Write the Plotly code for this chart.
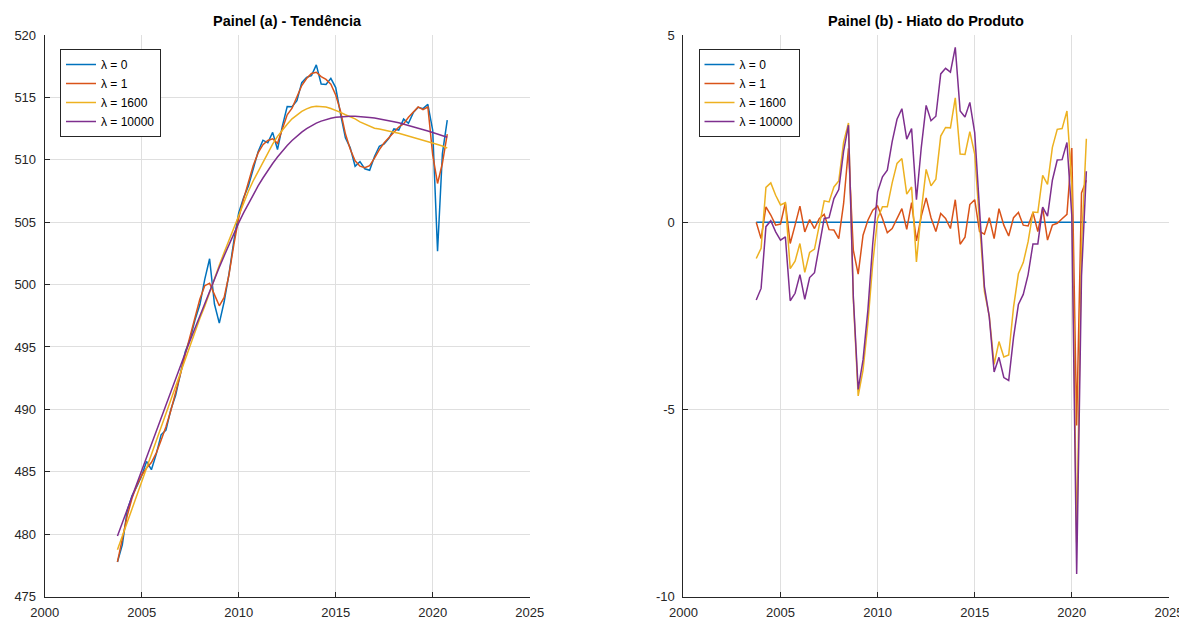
import plotly.graph_objects as go

# Quarterly dates (decimal year), 2003Q4 .. 2020Q4
anos = [2003.75,
        2004.0, 2004.25, 2004.5, 2004.75, 2005.0, 2005.25, 2005.5, 2005.75,
        2006.0, 2006.25, 2006.5, 2006.75, 2007.0, 2007.25, 2007.5, 2007.75,
        2008.0, 2008.25, 2008.5, 2008.75, 2009.0, 2009.25, 2009.5, 2009.75,
        2010.0, 2010.25, 2010.5, 2010.75, 2011.0, 2011.25, 2011.5, 2011.75,
        2012.0, 2012.25, 2012.5, 2012.75, 2013.0, 2013.25, 2013.5, 2013.75,
        2014.0, 2014.25, 2014.5, 2014.75, 2015.0, 2015.25, 2015.5, 2015.75,
        2016.0, 2016.25, 2016.5, 2016.75, 2017.0, 2017.25, 2017.5, 2017.75,
        2018.0, 2018.25, 2018.5, 2018.75, 2019.0, 2019.25, 2019.5, 2019.75,
        2020.0, 2020.25, 2020.5, 2020.75]

# Observed series (lambda = 0 trend is the series itself)
pib = [477.77, 479.14, 481.85, 483.07, 483.83, 484.67, 485.82, 485.16, 486.41,
       487.96, 488.34, 489.96, 491.13, 492.94, 494.63, 495.66, 497.17, 498.40,
       500.41, 502.07, 498.44, 496.91, 498.62, 500.85, 503.51, 505.75, 506.95,
       507.89, 509.37, 510.65, 511.57, 511.36, 512.20, 510.82, 512.70, 514.26,
       514.25, 514.73, 516.18, 516.61, 516.75, 517.61, 516.07, 516.04, 516.53,
       515.79, 513.65, 511.76, 510.96, 509.48, 509.85, 509.28, 509.16, 510.26,
       511.08, 511.28, 511.73, 512.47, 512.38, 513.26, 512.92, 513.78, 514.21,
       514.10, 514.44, 512.37, 502.67, 510.50, 513.17]

# Output gaps
hiato_l1 = [0.00, -0.44, 0.41, 0.19, -0.08, -0.05, 0.52, -0.57, -0.08, 0.43,
            -0.26, 0.07, -0.17, 0.10, 0.21, -0.20, -0.21, -0.44, 0.50, 1.97,
            -0.75, -1.39, -0.35, 0.05, 0.32, 0.43, 0.10, -0.28, -0.17, 0.10,
            0.36, -0.19, 0.52, -0.50, 0.16, 0.65, 0.12, -0.25, 0.23, 0.10,
            -0.17, 0.60, -0.59, -0.40, 0.47, 0.60, -0.25, -0.32, 0.12, -0.44,
            0.36, -0.08, -0.37, 0.12, 0.26, -0.08, -0.10, 0.26, -0.25, 0.38,
            -0.48, -0.08, -0.03, 0.09, 0.21, 1.98, -5.43, 0.78, 1.12]

hiato_l1600 = [-0.97, -0.70, 0.93, 1.05, 0.72, 0.46, 0.52, -1.24, -1.04, -0.57,
               -1.34, -0.81, -0.72, -0.10, 0.57, 0.54, 0.94, 1.10, 2.14, 2.65,
               -2.06, -4.64, -3.95, -2.70, -1.10, 0.10, 0.41, 0.41, 1.05, 1.57,
               1.70, 0.75, 0.94, -1.06, 0.30, 1.41, 0.97, 1.15, 2.30, 2.53,
               2.52, 3.32, 1.82, 1.81, 2.42, 1.82, -0.15, -1.85, -2.51, -3.80,
               -3.19, -3.60, -3.55, -2.27, -1.38, -1.08, -0.52, 0.27, 0.26, 1.25,
               1.01, 2.00, 2.48, 2.50, 2.97, 1.02, -8.56, -0.60, 2.23]

hiato_l10000 = [-2.08, -1.77, -0.12, 0.04, -0.26, -0.48, -0.39, -2.10, -1.90, -1.40,
                -2.06, -1.48, -1.35, -0.57, 0.10, 0.12, 0.63, 0.87, 1.90, 2.59,
                -2.00, -4.47, -3.68, -2.35, -0.57, 0.81, 1.21, 1.39, 2.15, 2.75,
                3.03, 2.22, 2.50, 0.60, 2.00, 3.12, 2.71, 2.83, 3.96, 4.11,
                4.01, 4.67, 2.97, 2.81, 3.20, 2.39, 0.20, -1.72, -2.53, -4.00,
                -3.61, -4.15, -4.23, -3.08, -2.20, -1.93, -1.40, -0.58, -0.58, 0.40,
                0.16, 1.12, 1.66, 1.67, 2.13, 0.18, -9.40, -1.44, 1.36]

lambdas = ["0", "1", "1600", "10000"]
cores = ["#0072BD", "#D95319", "#EDB120", "#7E2F8E"]

# Trend = series - gap ; gap for lambda = 0 is series - series
tend_l0 = list(pib)
tendencias = [tend_l0,
              [p - h for p, h in zip(pib, hiato_l1)],
              [p - h for p, h in zip(pib, hiato_l1600)],
              [p - h for p, h in zip(pib, hiato_l10000)]]
hiatos = [[p - t for p, t in zip(pib, tend_l0)], hiato_l1, hiato_l1600, hiato_l10000]

fig = go.Figure()
for lam, cor, tend in zip(lambdas, cores, tendencias):
    fig.add_trace(go.Scatter(x=anos, y=tend, mode="lines", name="λ = " + lam,
                             line=dict(color=cor, width=1.5),
                             xaxis="x", yaxis="y", legend="legend"))
for lam, cor, hia in zip(lambdas, cores, hiatos):
    fig.add_trace(go.Scatter(x=anos, y=hia, mode="lines", name="λ = " + lam,
                             line=dict(color=cor, width=1.5),
                             xaxis="x2", yaxis="y2", legend="legend2"))

W, H = 1187, 619
OFF = 8  # page body margin offset
AX = "#262626"
GRID = "#dfdfdf"
FONT = "Liberation Sans"

def px(v):
    return (v - OFF) / W

def py(v):
    return 1 - (v - OFF) / H

def xax(left, right):
    return dict(domain=[px(left), px(right)], range=[2000, 2025],
                tickvals=[2000, 2005, 2010, 2015, 2020, 2025],
                ticks="inside", ticklen=5, tickcolor=AX, showline=True, linecolor=AX, linewidth=1,
                showgrid=True, gridcolor=GRID, gridwidth=1, zeroline=False, mirror=False,
                automargin=False, ticklabelstandoff=4,
                tickfont=dict(family=FONT, size=13, color=AX), fixedrange=True)

def yax(rng, vals, anchor):
    return dict(domain=[py(596.5), py(35)], range=rng, tickvals=vals,
                ticktext=[str(v) for v in vals],
                ticks="inside", ticklen=5, tickcolor=AX, showline=True, linecolor=AX, linewidth=1,
                showgrid=True, gridcolor=GRID, gridwidth=1, zeroline=False, mirror=False,
                automargin=False, ticklabelstandoff=5,
                tickfont=dict(family=FONT, size=13, color=AX), anchor=anchor, fixedrange=True)

yv1 = [475, 480, 485, 490, 495, 500, 505, 510, 515, 520]
yv2 = [-10, -5, 0, 5]

leg_common = dict(bgcolor="white", bordercolor=AX, borderwidth=1,
                  font=dict(family=FONT, size=12, color="black"),
                  xanchor="left", yanchor="top", tracegroupgap=0, itemwidth=30)

fig.update_layout(
    width=W, height=H,
    margin=dict(l=0, r=0, t=0, b=0, pad=0, autoexpand=False),
    paper_bgcolor="white", plot_bgcolor="white",
    xaxis=dict(**xax(44.7, 529.7), anchor="y"),
    yaxis=yax([475, 520], yv1, "x"),
    xaxis2=dict(**xax(683.4, 1168.9), anchor="y2"),
    yaxis2=yax([-10, 5], yv2, "x2"),
    legend=dict(x=px(60), y=py(49), **leg_common),
    legend2=dict(x=px(698.5), y=py(49), **leg_common),
    annotations=[
        dict(text="<b>Painel (a) - Tendência</b>", x=px((44.7 + 529.7) / 2), y=py(21),
             xref="paper", yref="paper", showarrow=False, xanchor="center", yanchor="middle",
             font=dict(family=FONT, size=14.5, color="black")),
        dict(text="<b>Painel (b) - Hiato do Produto</b>", x=px((683.4 + 1168.9) / 2), y=py(21),
             xref="paper", yref="paper", showarrow=False, xanchor="center", yanchor="middle",
             font=dict(family=FONT, size=14.5, color="black")),
    ],
)

fig.write_html("out.html")
